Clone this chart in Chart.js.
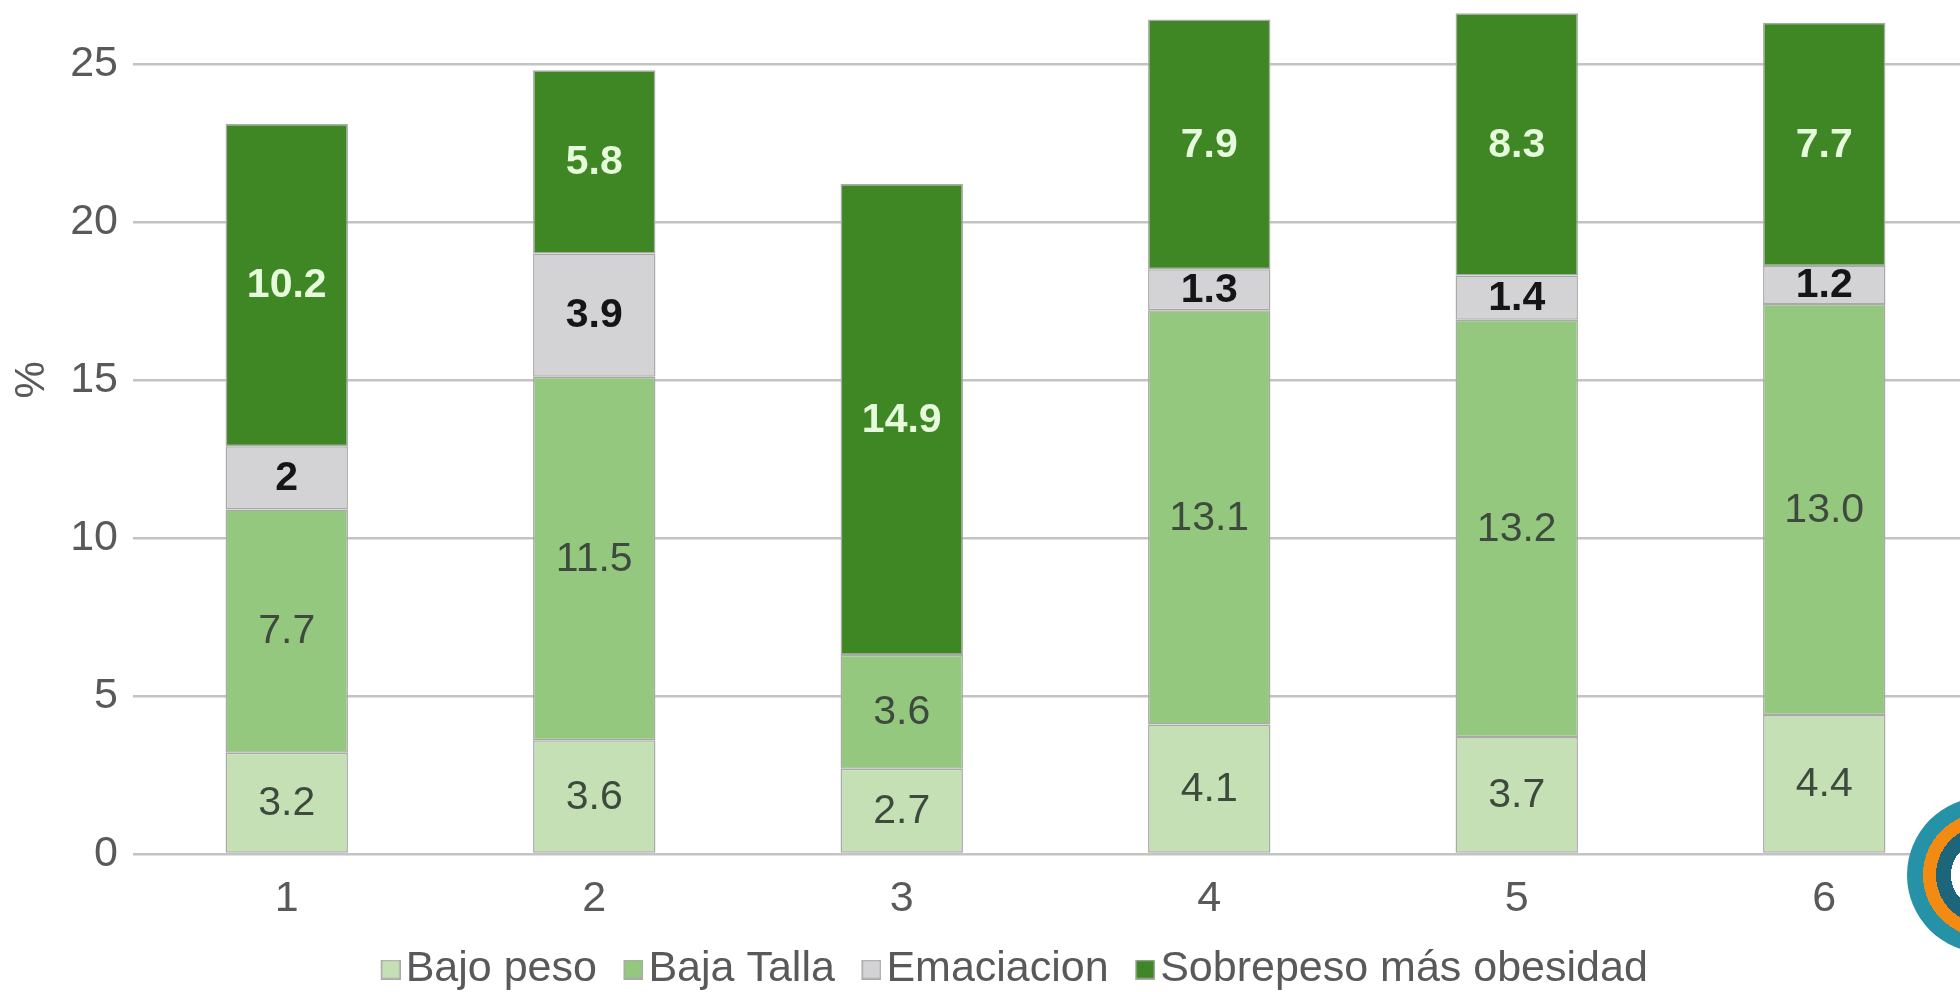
<!DOCTYPE html>
<html>
<head>
<meta charset="utf-8">
<script src="https://cdn.jsdelivr.net/npm/chart.js@4/dist/chart.umd.min.js"></script>
<style>
  html, body { margin: 0; padding: 0; background: #ffffff; overflow: hidden; width: 1960px; height: 992px; }
  #wrap { position: absolute; left: 0; top: -135px; width: 1990px; height: 1136px; }
  #logo { position: absolute; left: 1907px; top: 797px; width: 156px; height: 156px; border-radius: 50%;
    background: radial-gradient(circle closest-side, #ffffff 0 34px, #1d657a 34px 49px, #f38b13 49px 62px, #2592a8 62px 78px); }
</style>
</head>
<body>
<div id="wrap"><canvas id="c"></canvas></div>
<div id="logo"></div>
<script>
const categories = ['1', '2', '3', '4', '5', '6'];
const bajoPeso = [3.2, 3.6, 2.7, 4.1, 3.7, 4.4];
const bajaTalla = [7.7, 11.5, 3.6, 13.1, 13.2, 13.0];
const emaciacion = [2, 3.9, null, 1.3, 1.4, 1.2];
const sobrepeso = [10.2, 5.8, 14.9, 7.9, 8.3, 7.7];
const seriesNames = ['Bajo peso', 'Baja Talla', 'Emaciacion', 'Sobrepeso más obesidad'];
const yTicks = [0, 5, 10, 15, 20, 25, 30];

const FONT = "'Liberation Sans', Arial, sans-serif";
const labelStyles = [
  { color: '#3d4a3d', weight: 'normal', fixed: true },
  { color: '#3d4a3d', weight: 'normal', fixed: true },
  { color: '#151515', weight: 'bold', fixed: false },
  { color: '#e6fadc', weight: 'bold', fixed: false }
];

const valueLabels = {
  id: 'valueLabels',
  afterDatasetsDraw(chart) {
    const ctx = chart.ctx;
    ctx.save();
    ctx.textAlign = 'center';
    ctx.textBaseline = 'middle';
    chart.data.datasets.forEach((ds, di) => {
      const meta = chart.getDatasetMeta(di);
      const st = labelStyles[di];
      ctx.fillStyle = st.color;
      ctx.font = st.weight + ' 41px ' + FONT;
      meta.data.forEach((bar, i) => {
        const v = ds.data[i];
        if (v === null || v === undefined) return;
        const txt = st.fixed ? v.toFixed(1) : String(v);
        const p = bar.getProps(['x', 'y', 'base'], true);
        ctx.fillText(txt, p.x, (p.y + p.base) / 2 + 1);
      });
    });
    ctx.restore();
  }
};

const colors = ['#c5e0b4', '#95c87f', '#d3d3d6', '#3f8624'];
const seriesData = [bajoPeso, bajaTalla, emaciacion, sobrepeso];

// legend marker: 20px square placed at the right end of a 53px-wide transparent canvas
function makeMarker(fill) {
  const c = document.createElement('canvas');
  c.width = 53; c.height = 20;
  const g = c.getContext('2d');
  g.fillStyle = fill;
  g.fillRect(34, 1, 18, 18);
  g.strokeStyle = '#a9a9a9';
  g.lineWidth = 1.5;
  g.strokeRect(33.75, 0.75, 18.5, 18.5);
  return c;
}
const markers = colors.map(makeMarker);

new Chart(document.getElementById('c'), {
  type: 'bar',
  data: {
    labels: categories,
    datasets: seriesData.map((d, i) => ({
      label: seriesNames[i],
      data: d,
      backgroundColor: colors[i],
      borderColor: '#a9a9a9',
      borderWidth: 1.5,
      borderSkipped: false,
      categoryPercentage: 1,
      barPercentage: 0.398
    }))
  },
  options: {
    responsive: true,
    maintainAspectRatio: false,
    animation: false,
    layout: { padding: { top: 30, left: 34, right: 12, bottom: 0 } },
    plugins: {
      tooltip: { enabled: false },
      legend: {
        position: 'bottom',
        labels: {
          font: { family: FONT, size: 43 },
          color: '#595959',
          usePointStyle: true,
          pointStyleWidth: 20,
          boxWidth: 20,
          boxHeight: 20,
          padding: 10,
          generateLabels(chart) {
            const items = Chart.defaults.plugins.legend.labels.generateLabels(chart);
            items.forEach(it => { it.pointStyle = markers[it.datasetIndex]; });
            return items;
          }
        }
      }
    },
    scales: {
      x: {
        stacked: true,
        grid: { display: false, drawTicks: false },
        border: { display: false },
        ticks: { font: { family: FONT, size: 43 }, color: '#595959', padding: 19 },
        afterFit(scale) { scale.height = 84; }
      },
      y: {
        stacked: true,
        min: 0,
        max: 30,
        afterBuildTicks(scale) { scale.ticks = yTicks.map(v => ({ value: v })); },
        grid: { color: '#c3c3c3', lineWidth: 2.5, drawTicks: false },
        border: { display: false },
        ticks: { font: { family: FONT, size: 43 }, color: '#595959', padding: 15 },
        title: { display: true, text: '%', font: { family: FONT, size: 42 }, color: '#595959', padding: { top: -27, bottom: 0 } },
        afterFit(scale) { scale.width = 99; }
      }
    }
  },
  plugins: [valueLabels]
});
</script>
</body>
</html>
